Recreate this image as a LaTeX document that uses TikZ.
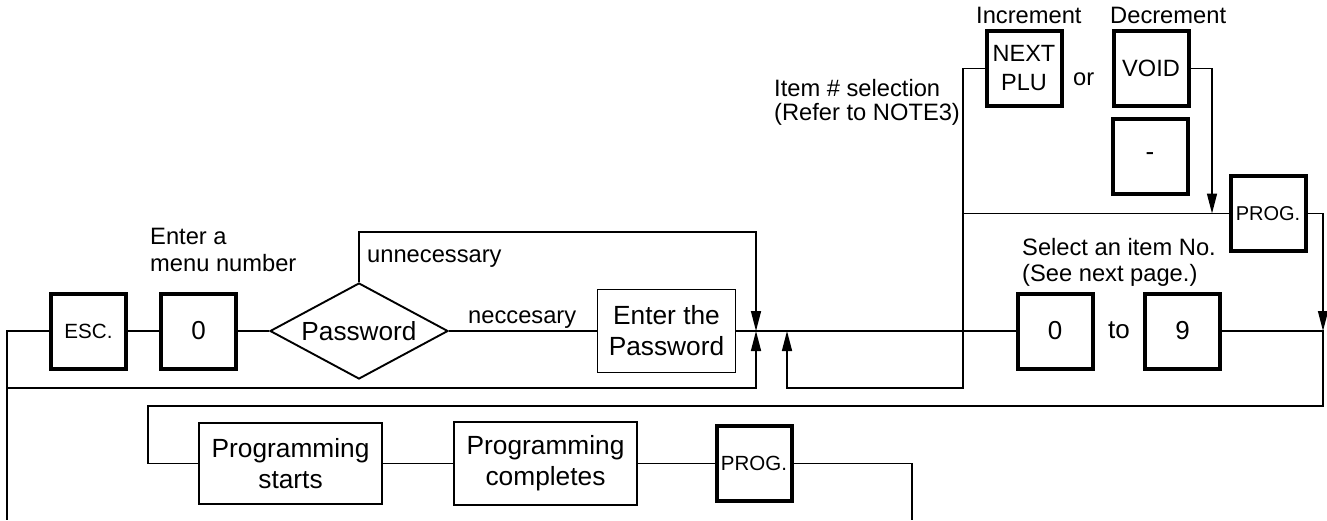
\documentclass[tikz,border=0pt]{standalone}
\usepackage{fontspec}
\setmainfont{Liberation Sans}
\usetikzlibrary{shapes.geometric,arrows.meta}
\newcommand\fsz[2]{\fontsize{#1}{#2}\selectfont}
\begin{document}
\begin{tikzpicture}[x=1pt,y=-1pt,
  conn/.style={line width=1.5pt},
  arr/.style={line width=1.5pt,-{Triangle[length=20pt,width=10pt]}},
  keybox/.style={draw,line width=4pt,minimum width=75pt,minimum height=75pt,inner sep=0pt,align=center,font=\fsz{26}{28}},
  tbox/.style={draw,line width=1.9pt,inner sep=0pt,align=center,font=\fsz{26.3}{31}},
  ann/.style={inner sep=0pt,font=\fsz{23.7}{26.7},align=left}]
\useasboundingbox (0,0) rectangle (1327,520);

% key and process nodes
\node[keybox,font=\fsz{20.6}{22}] (esc) at (88.5,331) {ESC.};
\node[keybox] (k0) at (198.5,331) {0};
\node[diamond,draw,line width=1.9pt,inner sep=0pt,aspect=1.854,minimum width=178pt,minimum height=96pt,font=\fsz{26.2}{28}] (pw) at (359,331) {Password};
\node[tbox,minimum width=138pt,minimum height=83pt] (ep) at (666.5,331) {Enter the\\Password};
\node[keybox] (r0) at (1055,331) {0};
\node[keybox] (r9) at (1182.5,331) {9};
\node[keybox,font=\fsz{23.5}{29}] (next) at (1024,68.5) {NEXT\\PLU};
\node[keybox,font=\fsz{23.6}{26}] (void) at (1151,68.5) {VOID};
\node[keybox] (minus) at (1150,156.5) {-};
\node[keybox,font=\fsz{20}{22}] (progr) at (1268,213.5) {PROG.};
\node[tbox,minimum width=183.5pt,minimum height=81.5pt] (ps) at (290.5,463.5) {Programming\\starts};
\node[tbox,minimum width=183.5pt,minimum height=82.5pt] (pc) at (545.5,463.5) {Programming\\completes};
\node[keybox,font=\fsz{20.5}{22}] (progb) at (754,463.5) {PROG.};

% labels
\node[ann,anchor=west] (t1) at (150,250) {Enter a\\menu number};
\node[ann,anchor=base west] (t2) at (367,262) {unnecessary};
\node[ann,anchor=base west] (t3) at (468,323) {neccesary};
\node[ann,anchor=west,font=\fsz{23.7}{24}] (t4) at (774,102) {Item \# selection\\(Refer to NOTE3)};
\node[ann,anchor=base west] (t5) at (976,23.5) {Increment};
\node[ann,anchor=base west] (t6) at (1110,23.5) {Decrement};
\node[ann,anchor=base west] (t7) at (1073,85) {or};
\node[ann,anchor=west] (t8) at (1022,262.3) {Select an item No.\\(See next page.)};
\node[ann,anchor=base west,font=\fsz{26}{28}] (t9) at (1108,338) {to};

% junctions and corners
\coordinate (j1) at (756,331);
\coordinate (j2) at (787,331);
\coordinate (j3) at (1323,331);
\coordinate (lt) at (7,331);
\coordinate (lm) at (7,388);
\coordinate (lb) at (7,520);
\coordinate (lm2) at (756,388);
\coordinate (ut) at (756,232);
\coordinate (v1) at (963,68.5);
\coordinate (v2) at (963,388);
\coordinate (v3) at (787,388);
\coordinate (h1) at (963,213.5);
\coordinate (d1) at (1212,68.5);
\coordinate (d2) at (1212,213.5);
\coordinate (p1) at (1323,213.5);
\coordinate (b1) at (1323,406);
\coordinate (b2) at (148,406);
\coordinate (b3) at (148,463.5);
\coordinate (e1) at (912,463.5);
\coordinate (e2) at (912,520);

% connectors
\draw[conn] (esc.west) -- (lt) -- (lb);
\draw[conn] (esc) -- (k0);
\draw[conn] (k0) -- (pw);
\draw[conn] (pw) -- (ep);
\draw[arr] (pw.north) |- (ut) -- (j1);
\draw[arr] (lm) -- (lm2) -- (j1);
\draw[conn] (ep) -- (r0);
\draw[arr] (next.west) -- (v1) -- (v2) -- (v3) -- (j2);
\draw[conn] (h1) -- (progr);
\draw[arr] (void) -- (d1) -- (d2);
\draw[arr] (progr) -- (p1) -- (j3);
\draw[conn] (r9) -- (j3) -- (b1) -- (b2) -- (b3) -- (ps);
\draw[conn] (ps) -- (pc);
\draw[conn] (pc) -- (progb);
\draw[conn] (progb) -- (e1) -- (e2);
\end{tikzpicture}
\end{document}
